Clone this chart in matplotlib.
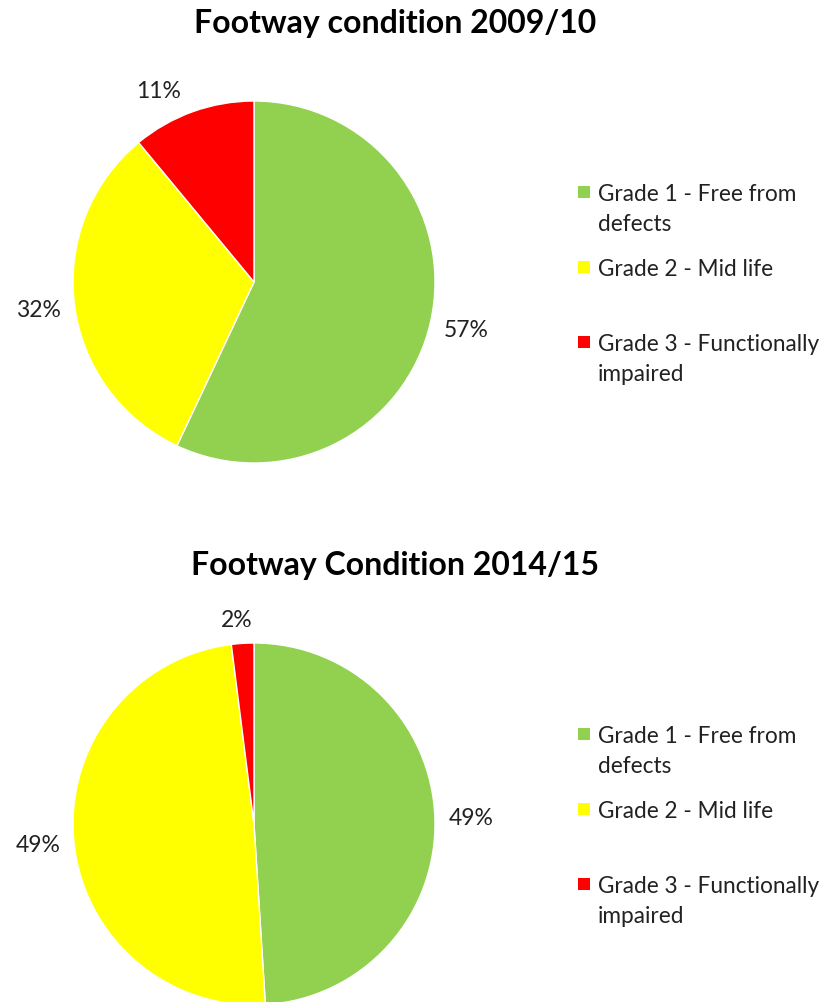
import matplotlib.pyplot as plt
from matplotlib.patches import Rectangle

plt.rcParams['font.family'] = ['Lato', 'DejaVu Sans']

grades = ['Grade 1 - Free from\ndefects', 'Grade 2 - Mid life', 'Grade 3 - Functionally\nimpaired']
colors = ['#92D050', '#FFFF00', '#FF0000']

titles = ['Footway condition 2009/10', 'Footway Condition 2014/15']
share_0910 = [57, 32, 11]
share_1415 = [49, 49, 2]

W, H = 824, 1003
fig = plt.figure(figsize=(W / 100, H / 100), dpi=100)

# pixel layout: (pie centre y, title y, first legend row y)
panels = [(283, 24, 193), (825, 565, 735)]
R = 181
cx = 254

for (cy, ty, ly), title, vals in zip(panels, titles, [share_0910, share_1415]):
    ax = fig.add_axes([(cx - R) / W, (H - cy - R) / H, 2 * R / W, 2 * R / H])
    wedges, texts, autotexts = ax.pie(
        vals, colors=colors, startangle=90, counterclock=False,
        autopct=lambda p: f'{p:.0f}%', pctdistance=1.2,
        wedgeprops=dict(edgecolor='white', linewidth=1))
    for t in autotexts:
        t.set_fontsize(16.5)
        t.set_color('#222222')
        # labels near the top sit a little lower in the original
        x, y = t.get_position()
        if y > 0.9:
            t.set_position((x * 1.3, y - 0.07))
    ax.set_xlim(-1, 1)
    ax.set_ylim(-1, 1)
    ax.axis('off')

    fig.text(395 / W, 1 - ty / H, title, ha='center', va='center',
             fontsize=23, fontweight='bold', color='black')

    # legend, Excel style: rows on a fixed pitch, marker beside the first line
    for i, (lab, c) in enumerate(zip(grades, colors)):
        y = ly + i * 75
        fig.patches.append(Rectangle((578 / W, 1 - (y + 6) / H), 12 / W, 12 / H,
                                     transform=fig.transFigure, facecolor=c,
                                     edgecolor='none'))
        fig.text(598 / W, 1 - (y - 9) / H, lab, ha='left', va='top',
                 fontsize=16.3, color='#222222', linespacing=1.55)

fig.savefig('out.png', dpi=100, facecolor='white')
